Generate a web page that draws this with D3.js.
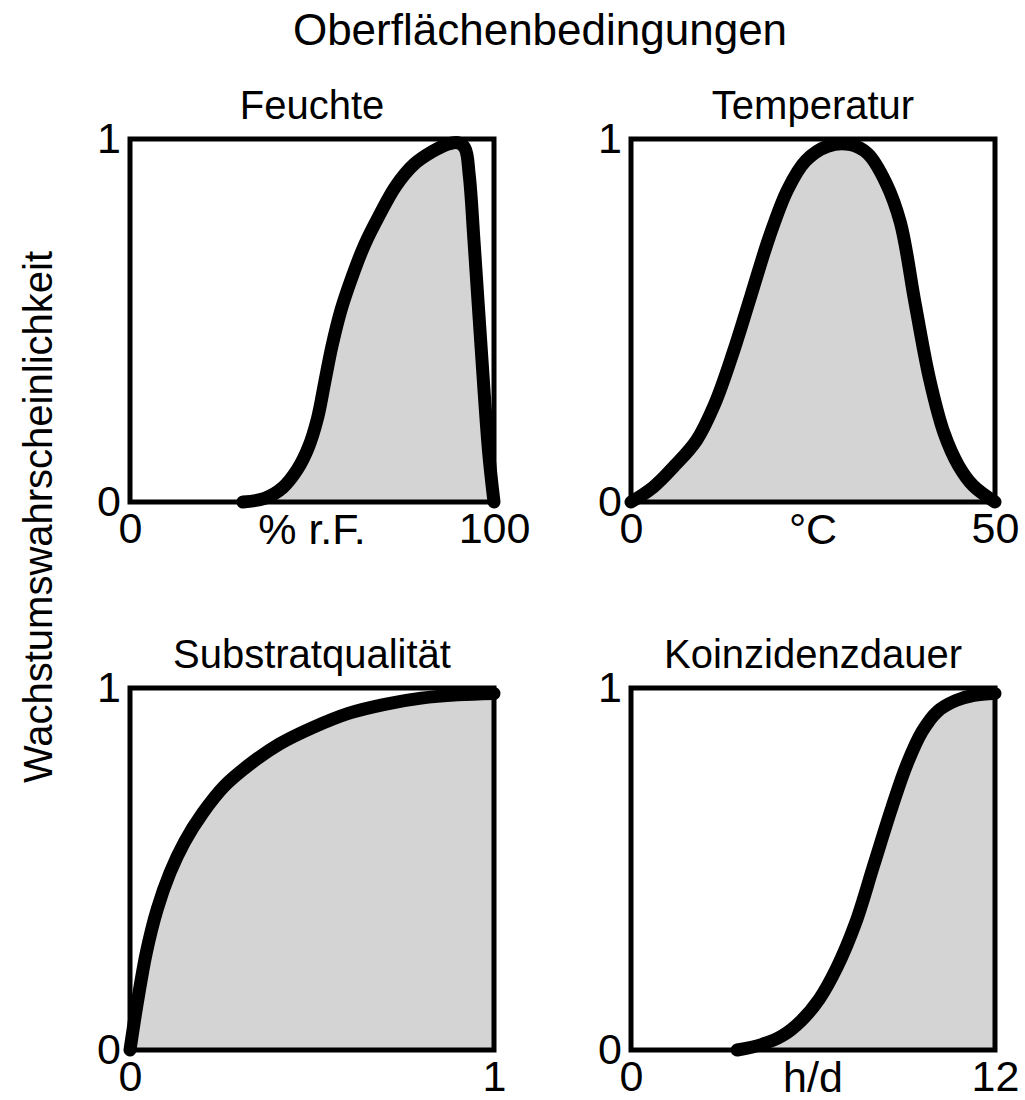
<!DOCTYPE html>
<html>
<head>
  <meta charset="utf-8">
  <title>Oberflächenbedingungen</title>
  <style>
  body { margin: 0; background: #fff; }
  text { font-family: "Liberation Sans", Arial, sans-serif; fill: #000; }
  .tick text { font-size: 43px; }
  </style>
</head>
<body>
  <div id="chart"></div>
  <script src="https://cdn.jsdelivr.net/npm/d3@7/dist/d3.min.js"></script>
  <script>
  // chart data
  var mainTitle = "Oberflächenbedingungen";
  var yLabel = "Wachstumswahrscheinlichkeit";
  var panelTitles = ["Feuchte", "Temperatur", "Substratqualität", "Koinzidenzdauer"];
  var units = ["% r.F.", "°C", "", "h/d"];
  var xMax = [100, 50, 1, 12];
  var yTicks = [0, 1];

  var feuchteX = [31, 37, 42, 46, 49, 51.5, 53.5, 55.5, 58, 61, 64.5, 68.5, 73, 78, 83, 87, 90, 92, 93.2, 94.5, 96.5, 98.5, 100];
  var feuchteY = [0, 0.01, 0.04, 0.09, 0.15, 0.23, 0.33, 0.43, 0.53, 0.62, 0.71, 0.79, 0.87, 0.93, 0.965, 0.985, 0.99, 0.975, 0.9, 0.72, 0.42, 0.14, 0];

  var temperaturX = [0, 3, 6, 9, 11.5, 14, 16.5, 19, 21.5, 24, 27, 30, 32.5, 35, 37, 39, 41, 43, 45, 47, 50];
  var temperaturY = [0, 0.04, 0.1, 0.17, 0.27, 0.41, 0.57, 0.73, 0.86, 0.94, 0.98, 0.985, 0.96, 0.88, 0.77, 0.55, 0.34, 0.19, 0.1, 0.045, 0];

  var substratX = [0, 0.02, 0.045, 0.075, 0.11, 0.15, 0.2, 0.26, 0.33, 0.41, 0.5, 0.6, 0.7, 0.8, 0.9, 1];
  var substratY = [0, 0.13, 0.27, 0.39, 0.49, 0.575, 0.655, 0.73, 0.79, 0.845, 0.89, 0.93, 0.955, 0.972, 0.981, 0.985];

  var koinzidenzX = [3.5, 4.3, 5, 5.6, 6.2, 6.8, 7.4, 8, 8.6, 9.1, 9.6, 10.1, 10.7, 11.3, 12];
  var koinzidenzY = [0, 0.015, 0.04, 0.08, 0.14, 0.23, 0.35, 0.51, 0.67, 0.79, 0.88, 0.935, 0.965, 0.98, 0.985];

  var curvesX = [feuchteX, temperaturX, substratX, koinzidenzX];
  var curvesY = [feuchteY, temperaturY, substratY, koinzidenzY];

  //page and panel layout
  var width = 1025, height = 1100;
  var cols = [[130, 494], [631, 995]];
  var rows = [[139, 502], [688, 1050]];

  var svg = d3.select("#chart").append("svg")
    .attr("width", width)
    .attr("height", height);

  svg.append("text")
    .attr("x", 540)
    .attr("y", 45)
    .attr("text-anchor", "middle")
    .style("font-size", "44px")
    .text(mainTitle);

  svg.append("text")
    .attr("transform", "translate(52,517) rotate(-90)")
    .attr("text-anchor", "middle")
    .style("font-size", "40px")
    .text(yLabel);

  panelTitles.forEach(function(title, i) {
    var c = cols[i % 2], r = rows[Math.floor(i / 2)];
    var pw = c[1] - c[0], ph = r[1] - r[0];

    var x = d3.scaleLinear().domain([0, xMax[i]]).range([0, pw]);
    var y = d3.scaleLinear().domain([0, 1]).range([ph, 0]);

    var g = svg.append("g")
      .attr("transform", "translate(" + c[0] + "," + r[0] + ")");

    var pts = curvesX[i].map(function(v, j) { return [v, curvesY[i][j]]; });

    //shaded area under the curve
    g.append("path")
      .datum(pts)
      .attr("fill", "#d4d4d4")
      .attr("d", d3.area()
        .x(function(d) { return x(d[0]); })
        .y0(y(0))
        .y1(function(d) { return y(d[1]); })
        .curve(d3.curveCatmullRom.alpha(0.5)));

    //frame
    g.append("rect")
      .attr("width", pw)
      .attr("height", ph)
      .attr("fill", "none")
      .attr("stroke", "#000")
      .attr("stroke-width", 5);

    //the curve itself
    g.append("path")
      .datum(pts)
      .attr("fill", "none")
      .attr("stroke", "#000")
      .attr("stroke-width", 13)
      .attr("stroke-linejoin", "round")
      .attr("stroke-linecap", "round")
      .attr("d", d3.line()
        .x(function(d) { return x(d[0]); })
        .y(function(d) { return y(d[1]); })
        .curve(d3.curveCatmullRom.alpha(0.5)));

    //axes: only the end values
    var xa = g.append("g")
      .attr("transform", "translate(0," + ph + ")")
      .call(d3.axisBottom(x).tickValues([0, xMax[i]]).tickSize(0).tickPadding(10)
        .tickFormat(d3.format("d")));
    xa.select(".domain").remove();
    xa.selectAll("text").attr("font-family", null).attr("font-size", null);

    var ya = g.append("g")
      .call(d3.axisLeft(y).tickValues(yTicks).tickSize(0).tickPadding(9)
        .tickFormat(d3.format("d")));
    ya.select(".domain").remove();
    ya.selectAll("text").attr("font-family", null).attr("font-size", null);

    g.append("text")
      .attr("x", pw / 2)
      .attr("y", ph + 42)
      .attr("text-anchor", "middle")
      .style("font-size", "43px")
      .text(units[i]);

    g.append("text")
      .attr("x", pw / 2)
      .attr("y", -20)
      .attr("text-anchor", "middle")
      .style("font-size", "40px")
      .text(title);
  });
  </script>
</body>
</html>
